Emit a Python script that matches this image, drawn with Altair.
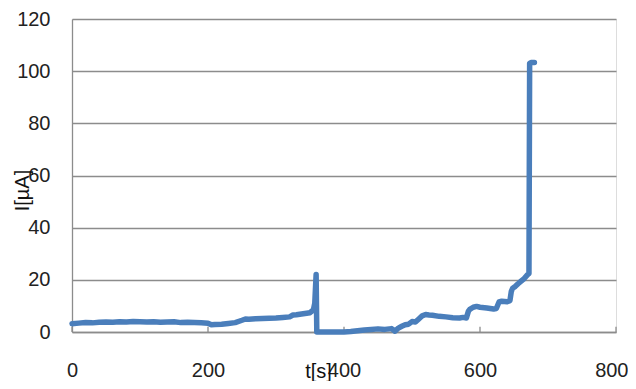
import altair as alt
import pandas as pd

t_s = [0, 10, 20, 30, 40, 50, 60, 70, 80, 90,
       100, 110, 120, 130, 140, 150, 160, 170, 180, 190,
       200, 205, 210, 220, 230, 240, 250, 255, 260, 270,
       280, 290, 300, 310, 320, 325, 330, 340, 350, 355,
       357, 359, 360, 362, 380, 400, 410, 420, 430, 440,
       450, 460, 470, 475, 480, 485, 490, 495, 500, 505,
       510, 515, 520, 525, 530, 540, 550, 560, 570, 575,
       580, 583, 585, 590, 595, 600, 610, 620, 624, 628,
       632, 640, 644, 646, 648, 652, 656, 660, 665, 670,
       672, 673, 675, 680]
i_ua = [3.2, 3.4, 3.6, 3.5, 3.7, 3.8, 3.7, 3.9, 3.8, 4.0,
        3.9, 3.8, 3.9, 3.7, 3.8, 3.9, 3.6, 3.7, 3.6, 3.5,
        3.4, 2.8, 2.9, 3.0, 3.3, 3.6, 4.5, 5.0, 4.9, 5.1,
        5.2, 5.3, 5.4, 5.6, 5.8, 6.5, 6.6, 7.0, 7.4, 8.5,
        11.0, 22.0, 0.0, 0.0, 0.0, 0.0, 0.2, 0.5, 0.8, 1.0,
        1.2, 1.0, 1.3, 0.3, 1.5, 2.2, 2.8, 3.0, 4.0, 3.8,
        5.0, 6.2, 6.7, 6.5, 6.4, 6.0, 5.8, 5.5, 5.4, 5.6,
        5.4, 8.0, 8.7, 9.5, 9.8, 9.5, 9.2, 8.8, 9.0, 11.5,
        11.8, 11.6, 12.0, 15.5, 16.8, 17.5, 18.5, 19.4, 20.5, 22.0,
        22.4, 103.0, 103.3, 103.3]

x_ticks = [0, 200, 400, 600, 800]
y_ticks = [0, 20, 40, 60, 80, 100, 120]

df = pd.DataFrame({"t": t_s, "I": i_ua})
ticks_df = pd.DataFrame({"t": x_ticks, "y0": [0] * len(x_ticks), "y1": [2.0] * len(x_ticks)})

FONT = "Liberation Sans"
GRID = "#8c8c8c"

x_scale = alt.Scale(domain=[0, 800], nice=False, zero=False)
y_scale = alt.Scale(domain=[0, 120], nice=False)

line = alt.Chart(df).mark_line(
    color="#4A7EBB", strokeWidth=5.5, strokeJoin="round", strokeCap="round"
).encode(
    x=alt.X("t:Q", scale=x_scale, axis=alt.Axis(
        values=x_ticks, title="t[s]", grid=False, ticks=False, tickSize=0,
        domainColor=GRID, domainWidth=1.3, labelFlush=False,
        labelAlign={"condition": {"test": "datum.value >= 800", "value": "right"}, "value": "center"},
        labelOffset={"condition": {"test": "datum.value >= 800", "value": 12}, "value": 0},
        labelFont=FONT, labelFontSize=20, labelColor="#222222",
        labelPadding=28, labelBaseline="top",
        titleFont=FONT, titleFontSize=20, titleFontWeight="normal", titleColor="#111111",
        titleX=246, titleY=45, titleAlign="center", titleBaseline="alphabetic")),
    y=alt.Y("I:Q", scale=y_scale, axis=alt.Axis(
        values=y_ticks, title="I[µA]", grid=True, gridColor=GRID, gridWidth=1.3,
        ticks=False, tickSize=0, domainColor=GRID, domainWidth=1.3,
        labelFont=FONT, labelFontSize=20, labelColor="#222222", labelPadding=22,
        titleFont=FONT, titleFontSize=20, titleFontWeight="normal", titleColor="#111111",
        titleX=-44, titleY=171, titleAlign="center", titleBaseline="alphabetic", titleAngle=270)),
)

tick_marks = alt.Chart(ticks_df).mark_rule(color=GRID, strokeWidth=1.3).encode(
    x=alt.X("t:Q", scale=x_scale),
    y=alt.Y("y0:Q", scale=y_scale),
    y2="y1:Q",
)

chart = alt.layer(tick_marks, line).properties(
    width=544, height=313,
    autosize=alt.AutoSizeParams(type="none"),
    padding={"left": 64, "top": 11, "right": 12, "bottom": 49},
).configure_view(stroke=None).configure(background="white")

chart.save("out.html", embed_options={"renderer": "svg", "actions": False})
